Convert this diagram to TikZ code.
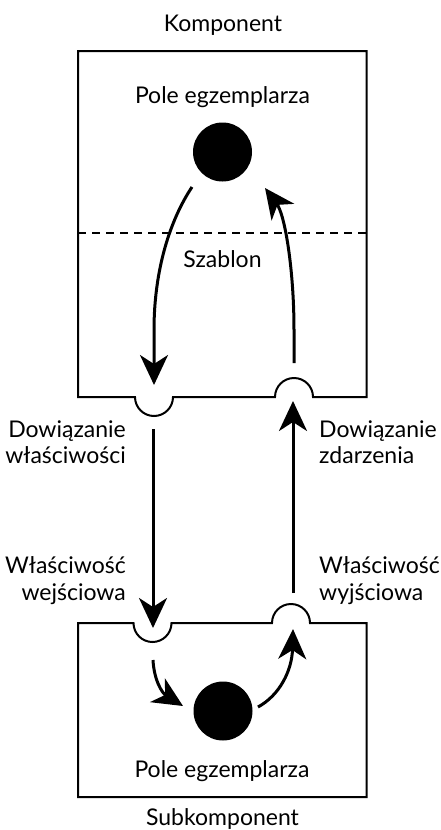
\documentclass[tikz,border=0pt]{standalone}
\usepackage{fontspec}
\setmainfont{Lato}
\usetikzlibrary{arrows.meta}
\begin{document}
\begin{tikzpicture}[x=1pt,y=1pt,
  lbl/.style={font=\fontsize{23}{26.5}\selectfont, inner sep=0pt},
  dot/.style={circle,fill=black,minimum size=59pt,inner sep=0pt},
  box/.style={line width=2pt},
  arr/.style={line width=3pt,-{Stealth[length=30pt,width=28pt,inset=9pt]}},
  sep/.style={line width=1.5pt,dash pattern=on 8pt off 6pt}]
\useasboundingbox (0,0) rectangle (440,-830);
% boxes with ports
\draw[box] (78,-51) -- (366.5,-51) -- (366.5,-397) -- (313,-397)
  arc[start angle=0,end angle=180,radius=19] -- (173,-397)
  arc[start angle=0,end angle=-180,radius=19] -- (78,-397) -- cycle;
\draw[box] (78,-623) -- (133.5,-623)
  arc[start angle=180,end angle=360,radius=19] -- (272,-623)
  arc[start angle=180,end angle=0,radius=19] -- (366.5,-623) -- (366.5,-797) -- (78,-797) -- cycle;
\coordinate (sepL) at (78,-233);
\coordinate (sepR) at (366.5,-233);
\draw[sep] (sepL) -- (sepR);
% instance fields
\node[dot] (f1) at (222.5,-152) {};
\node[dot] (f2) at (223,-711) {};
% labels
\node[lbl,anchor=base] (komp) at (223,-31) {Komponent};
\node[lbl,anchor=base] (pole1) at (222.5,-103) {Pole egzemplarza};
\node[lbl,anchor=base] (szab) at (222.5,-267) {Szablon};
\node[lbl,anchor=base east,align=right] (dw) at (126,-463.5) {Dowiązanie\\właściwości};
\node[lbl,anchor=base west,align=left] (dz) at (319,-463.5) {Dowiązanie\\zdarzenia};
\node[lbl,anchor=base east,align=right] (ww) at (126,-600) {Właściwość\\wejściowa};
\node[lbl,anchor=base west,align=left] (wy) at (319,-600) {Właściwość\\wyjściowa};
\node[lbl,anchor=base] (pole2) at (222,-777) {Pole egzemplarza};
\node[lbl,anchor=base] (sub) at (222.5,-825) {Subkomponent};
% connector end points
\coordinate (a1s) at (192,-187);
\coordinate (a1e) at (154,-385);
\coordinate (a2s) at (294,-363);
\coordinate (a2e) at (265,-188);
\coordinate (m1s) at (153,-429);
\coordinate (m1e) at (153,-628);
\coordinate (m2s) at (293,-593);
\coordinate (m2e) at (293,-401);
\coordinate (b1s) at (153,-660);
\coordinate (b1e) at (183,-706);
\coordinate (b2s) at (258,-707);
\coordinate (b2e) at (293,-629);
% connectors
\draw[arr] (a1s) .. controls (170,-220) and (154,-270) .. (154,-330) -- (a1e);
\draw[arr] (a2s) -- (294,-330) .. controls (294,-270) and (285,-215) .. (a2e);
\draw[arr] (m1s) -- (m1e);
\draw[arr] (m2s) -- (m2e);
\draw[arr] (b1s) .. controls (154,-680) and (162,-693) .. (b1e);
\draw[arr] (b2s) .. controls (280,-695) and (292,-670) .. (b2e);
\end{tikzpicture}
\end{document}
